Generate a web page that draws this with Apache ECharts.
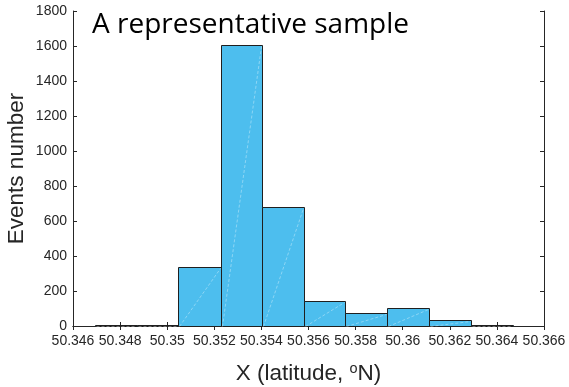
<!DOCTYPE html>
<html>
<head>
<meta charset="utf-8">
<script src="https://cdn.jsdelivr.net/npm/echarts@6/dist/echarts.min.js"></script>
<style>html,body{margin:0;padding:0;background:#fff}#c{width:569px;height:387px}</style>
</head>
<body>
<div id="c"></div>
<script>
// Histogram bin edges (degrees latitude) and counts
var binEdges = [50.34693, 50.34872, 50.35047, 50.35227, 50.35404, 50.35581, 50.35756, 50.35935, 50.36113, 50.36290, 50.36467];
var counts = [3, 8, 338, 1603, 680, 145, 73, 104, 35, 4];
var xTicks = [50.346, 50.348, 50.35, 50.352, 50.354, 50.356, 50.358, 50.36, 50.362, 50.364, 50.366];
var yTicks = [0, 200, 400, 600, 800, 1000, 1200, 1400, 1600, 1800];

var bins = counts.map(function (c, i) { return [binEdges[i], binEdges[i + 1], c]; });

var axisColor = '#262626';
var labelFont = { color: '#262626', fontSize: 14, fontFamily: 'Liberation Sans, Arial, sans-serif' };

var chart = echarts.init(document.getElementById('c'), null, { renderer: 'canvas' });
chart.setOption({
  animation: false,
  title: {
    text: 'A representative sample',
    left: 92, top: 11, padding: 0,
    textStyle: { fontSize: 28, fontWeight: 'normal', color: '#000', fontFamily: 'Open Sans' }
  },
  grid: { left: 73, right: 25, top: 11, bottom: 61, containLabel: false, outerBoundsMode: 'none' },
  xAxis: [{
    type: 'value', min: xTicks[0], max: xTicks[xTicks.length - 1], interval: 0.002,
    position: 'bottom',
    axisLine: { lineStyle: { color: axisColor, width: 1 } },
    axisTick: { inside: true, length: 4, lineStyle: { color: axisColor } },
    splitLine: { show: false },
    axisLabel: Object.assign({ margin: 8, formatter: function (v) { return String(+v.toFixed(3)); } }, labelFont),
    name: '{a|X (latitude, }{s|o}{a|N)}',
    nameLocation: 'middle', nameGap: 35,
    nameTextStyle: {
      rich: {
        a: { fontSize: 22.5, color: '#262626', fontFamily: 'Liberation Sans, Arial, sans-serif', lineHeight: 26 },
        s: { fontSize: 14.5, color: '#262626', fontFamily: 'Liberation Sans, Arial, sans-serif', verticalAlign: 'top', lineHeight: 26, padding: [0, 0, 10, 0] }
      }
    }
  }, {
    type: 'value', min: xTicks[0], max: xTicks[xTicks.length - 1], interval: 0.002,
    position: 'top',
    axisLine: { lineStyle: { color: axisColor, width: 1 } },
    axisTick: { inside: true, length: 4, lineStyle: { color: axisColor } },
    axisLabel: { show: false }, splitLine: { show: false }
  }],
  yAxis: [{
    type: 'value', min: 0, max: 1800, interval: 200,
    axisLine: { show: true, lineStyle: { color: axisColor, width: 1 } },
    axisTick: { show: true, inside: true, length: 4, lineStyle: { color: axisColor } },
    splitLine: { show: false },
    axisLabel: Object.assign({ margin: 6, formatter: function (v) { return String(v); } }, labelFont),
    name: 'Events number', nameLocation: 'middle', nameGap: 45, nameMoveOverlap: false,
    nameTextStyle: { fontSize: 22.5, color: '#262626', fontFamily: 'Liberation Sans, Arial, sans-serif' }
  }, {
    type: 'value', min: 0, max: 1800, interval: 200, position: 'right',
    axisLine: { show: true, lineStyle: { color: axisColor, width: 1 } },
    axisTick: { show: true, inside: true, length: 4, lineStyle: { color: axisColor } },
    axisLabel: { show: false }, splitLine: { show: false }
  }],
  series: [{
    type: 'custom',
    data: bins,
    encode: { x: [0, 1], y: 2 },
    renderItem: function (params, api) {
      var p0 = api.coord([api.value(0), api.value(2)]);
      var p1 = api.coord([api.value(1), 0]);
      var x = Math.round(p0[0]) + 0.5, y = Math.round(p0[1]) + 0.5;
      var w = Math.round(p1[0]) - Math.round(p0[0]), h = Math.round(p1[1]) - Math.round(p0[1]);
      return {
        type: 'group',
        children: [{
          type: 'rect',
          shape: { x: x, y: y, width: w, height: h },
          style: { fill: '#4DBEEE', stroke: '#1f1f1f', lineWidth: 1 }
        }, {
          type: 'line',
          shape: { x1: x + 1, y1: y + h, x2: x + w - 1, y2: y + 1 },
          style: { stroke: 'rgba(255,255,255,0.45)', lineWidth: 0.8, lineDash: [3, 2] }
        }]
      };
    }
  }]
});
</script>
</body>
</html>
